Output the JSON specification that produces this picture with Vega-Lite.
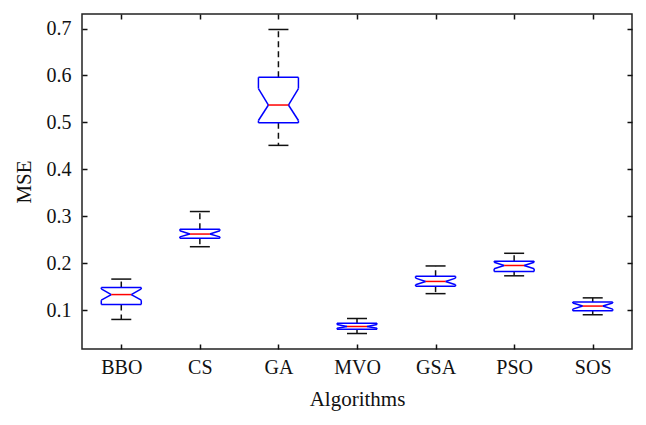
{
 "$schema": "https://vega.github.io/schema/vega-lite/v6.json",
 "width": 550, "height": 335,
 "autosize": {"type": "none"},
 "padding": {"left": 82, "top": 14, "right": 14, "bottom": 76},
 "background": "white",
 "config": {
  "view": {"stroke": "#222222", "strokeWidth": 1.5},
  "font": "Liberation Serif",
  "axis": {"grid": false, "domain": false, "tickColor": "#111111", "tickWidth": 1.5, "tickSize": -5,
           "labelFont": "Liberation Serif", "labelFontSize": 20, "labelColor": "#111111",
           "titleFont": "Liberation Serif", "titleFontSize": 21, "titleFontWeight": "normal", "titleColor": "#111111"}
 },
 "data": {"values": [
  {"algo": "BBO", "lower": 0.080, "q1": 0.112, "nlo": 0.121, "med": 0.133, "nhi": 0.145, "q3": 0.148, "upper": 0.166},
  {"algo": "CS",  "lower": 0.235, "q1": 0.253, "nlo": 0.256, "med": 0.262, "nhi": 0.269, "q3": 0.272, "upper": 0.310},
  {"algo": "GA",  "lower": 0.451, "q1": 0.499, "nlo": 0.504, "med": 0.537, "nhi": 0.572, "q3": 0.596, "upper": 0.698},
  {"algo": "MVO", "lower": 0.050, "q1": 0.059, "nlo": 0.061, "med": 0.065, "nhi": 0.069, "q3": 0.072, "upper": 0.082},
  {"algo": "GSA", "lower": 0.135, "q1": 0.151, "nlo": 0.154, "med": 0.161, "nhi": 0.168, "q3": 0.172, "upper": 0.194},
  {"algo": "PSO", "lower": 0.173, "q1": 0.182, "nlo": 0.188, "med": 0.195, "nhi": 0.202, "q3": 0.204, "upper": 0.221},
  {"algo": "SOS", "lower": 0.090, "q1": 0.0985, "nlo": 0.102, "med": 0.1085, "nhi": 0.115, "q3": 0.117, "upper": 0.126}
 ]},
 "encoding": {
  "x": {"field": "algo", "type": "nominal", "scale": {"type": "point", "domain": ["BBO","CS","GA","MVO","GSA","PSO","SOS"], "padding": 0.5}, "axis": null}
 },
 "resolve": {"axis": {"x": "independent", "y": "independent"}},
 "layer": [
  {"mark": {"type": "rule", "color": "#111111", "strokeWidth": 1.5, "strokeDash": [6, 4]},
   "encoding": {
    "x": {"field": "algo", "type": "nominal", "scale": {"type": "point", "domain": ["BBO","CS","GA","MVO","GSA","PSO","SOS"], "padding": 0.5},
          "axis": {"orient": "bottom", "title": "Algorithms", "labelAngle": 0, "labelPadding": 13, "titlePadding": 11}},
    "y": {"field": "q3", "type": "quantitative", "scale": {"domain": [0.017, 0.731], "nice": false, "zero": false},
          "axis": {"orient": "left", "title": "MSE", "values": [0.1,0.2,0.3,0.4,0.5,0.6,0.7], "format": ".1f", "labelPadding": 16, "titlePadding": 12}},
    "y2": {"field": "upper"}}},
  {"mark": {"type": "rule", "color": "#111111", "strokeWidth": 1.5, "strokeDash": [6, 4]},
   "encoding": {
    "x": {"field": "algo", "type": "nominal", "scale": {"type": "point", "domain": ["BBO","CS","GA","MVO","GSA","PSO","SOS"], "padding": 0.5},
          "axis": {"orient": "top", "title": null, "labels": false}},
    "y": {"field": "q1", "type": "quantitative", "scale": {"domain": [0.017, 0.731], "nice": false, "zero": false},
          "axis": {"orient": "right", "title": null, "labels": false, "values": [0.1,0.2,0.3,0.4,0.5,0.6,0.7]}},
    "y2": {"field": "lower"}}},
  {"mark": {"type": "rule", "color": "#111111", "strokeWidth": 1.5, "xOffset": -10, "x2Offset": 10},
   "encoding": {"x2": {"field": "algo"},
    "y": {"field": "upper", "type": "quantitative", "scale": {"domain": [0.017, 0.731], "nice": false, "zero": false}, "axis": null}}},
  {"mark": {"type": "rule", "color": "#111111", "strokeWidth": 1.5, "xOffset": -10, "x2Offset": 10},
   "encoding": {"x2": {"field": "algo"},
    "y": {"field": "lower", "type": "quantitative", "scale": {"domain": [0.017, 0.731], "nice": false, "zero": false}, "axis": null}}},
  {"mark": {"type": "rule", "color": "#0000ff", "strokeWidth": 1.5, "xOffset": -20, "x2Offset": 20},
   "encoding": {"x2": {"field": "algo"},
    "y": {"field": "q3", "type": "quantitative", "scale": {"domain": [0.017, 0.731], "nice": false, "zero": false}, "axis": null}}},
  {"mark": {"type": "rule", "color": "#0000ff", "strokeWidth": 1.5, "xOffset": -20, "x2Offset": 20},
   "encoding": {"x2": {"field": "algo"},
    "y": {"field": "q1", "type": "quantitative", "scale": {"domain": [0.017, 0.731], "nice": false, "zero": false}, "axis": null}}},
  {"mark": {"type": "rule", "color": "#0000ff", "strokeWidth": 1.5, "xOffset": -20},
   "encoding": {
    "y": {"field": "q3", "type": "quantitative", "scale": {"domain": [0.017, 0.731], "nice": false, "zero": false}, "axis": null},
    "y2": {"field": "nhi"}}},
  {"mark": {"type": "rule", "color": "#0000ff", "strokeWidth": 1.5, "xOffset": 20},
   "encoding": {
    "y": {"field": "q3", "type": "quantitative", "scale": {"domain": [0.017, 0.731], "nice": false, "zero": false}, "axis": null},
    "y2": {"field": "nhi"}}},
  {"mark": {"type": "rule", "color": "#0000ff", "strokeWidth": 1.5, "xOffset": -20},
   "encoding": {
    "y": {"field": "nlo", "type": "quantitative", "scale": {"domain": [0.017, 0.731], "nice": false, "zero": false}, "axis": null},
    "y2": {"field": "q1"}}},
  {"mark": {"type": "rule", "color": "#0000ff", "strokeWidth": 1.5, "xOffset": 20},
   "encoding": {
    "y": {"field": "nlo", "type": "quantitative", "scale": {"domain": [0.017, 0.731], "nice": false, "zero": false}, "axis": null},
    "y2": {"field": "q1"}}},
  {"mark": {"type": "rule", "color": "#0000ff", "strokeWidth": 1.5, "xOffset": -20, "x2Offset": -10},
   "encoding": {"x2": {"field": "algo"},
    "y": {"field": "nhi", "type": "quantitative", "scale": {"domain": [0.017, 0.731], "nice": false, "zero": false}, "axis": null},
    "y2": {"field": "med"}}},
  {"mark": {"type": "rule", "color": "#0000ff", "strokeWidth": 1.5, "xOffset": 20, "x2Offset": 10},
   "encoding": {"x2": {"field": "algo"},
    "y": {"field": "nhi", "type": "quantitative", "scale": {"domain": [0.017, 0.731], "nice": false, "zero": false}, "axis": null},
    "y2": {"field": "med"}}},
  {"mark": {"type": "rule", "color": "#0000ff", "strokeWidth": 1.5, "xOffset": -20, "x2Offset": -10},
   "encoding": {"x2": {"field": "algo"},
    "y": {"field": "nlo", "type": "quantitative", "scale": {"domain": [0.017, 0.731], "nice": false, "zero": false}, "axis": null},
    "y2": {"field": "med"}}},
  {"mark": {"type": "rule", "color": "#0000ff", "strokeWidth": 1.5, "xOffset": 20, "x2Offset": 10},
   "encoding": {"x2": {"field": "algo"},
    "y": {"field": "nlo", "type": "quantitative", "scale": {"domain": [0.017, 0.731], "nice": false, "zero": false}, "axis": null},
    "y2": {"field": "med"}}},
  {"mark": {"type": "rule", "color": "#ff0000", "strokeWidth": 1.5, "xOffset": -10, "x2Offset": 10},
   "encoding": {"x2": {"field": "algo"},
    "y": {"field": "med", "type": "quantitative", "scale": {"domain": [0.017, 0.731], "nice": false, "zero": false}, "axis": null}}}
 ]
}
